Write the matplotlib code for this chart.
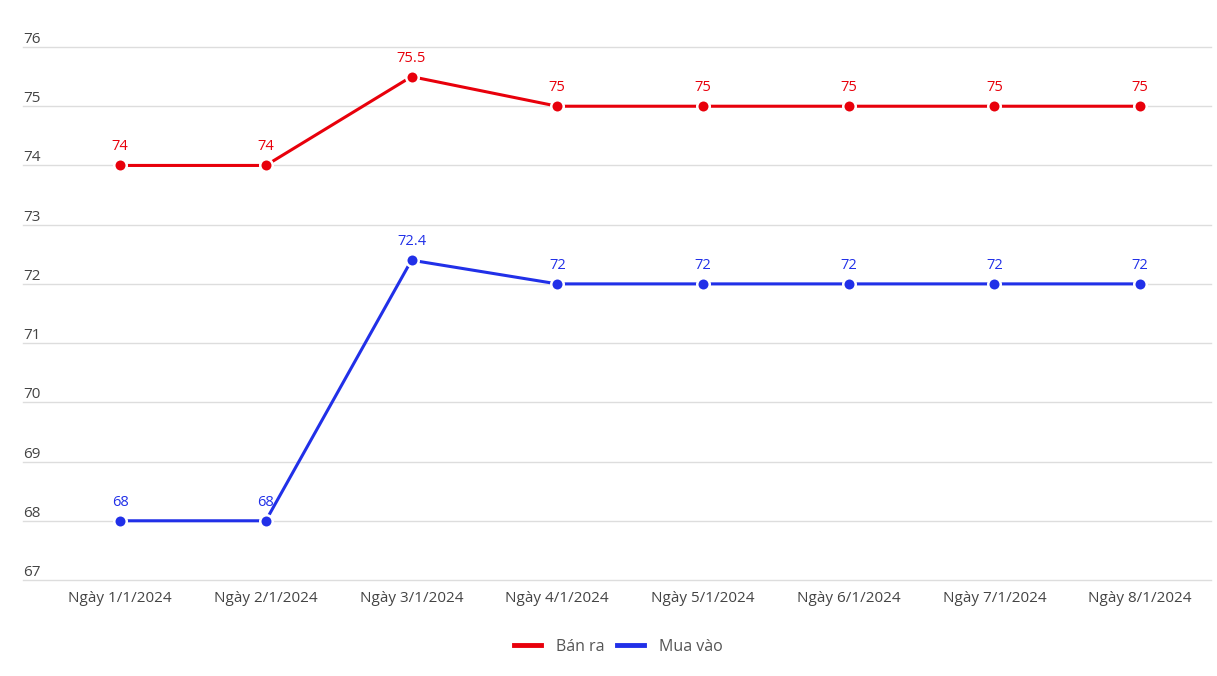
import matplotlib.pyplot as plt
from matplotlib.lines import Line2D
from matplotlib.transforms import blended_transform_factory

plt.rcParams['font.family'] = ['Open Sans', 'DejaVu Sans']

days = ["Ngày 1/1/2024", "Ngày 2/1/2024", "Ngày 3/1/2024", "Ngày 4/1/2024",
        "Ngày 5/1/2024", "Ngày 6/1/2024", "Ngày 7/1/2024", "Ngày 8/1/2024"]
ban_ra = [74, 74, 75.5, 75, 75, 75, 75, 75]
mua_vao = [68, 68, 72.4, 72, 72, 72, 72, 72]
yticks = list(range(67, 77))

red = "#e8000b"
blue = "#2130e8"

fig = plt.figure(figsize=(12.17, 6.76), dpi=100)
ax = fig.add_axes([23/1217, 1 - 580/676, (1211-23)/1217, (580-47)/676])

x = list(range(len(days)))
for vals, col in [(ban_ra, red), (mua_vao, blue)]:
    ax.plot(x, vals, color=col, lw=2.2, zorder=3)
    ax.plot(x, vals, 'o', ms=9, color=col, mec="white", mew=1.8, zorder=4)
    for xi, v in zip(x, vals):
        ax.annotate(f"{v:g}", (xi, v), xytext=(0, 8), textcoords="offset points",
                    ha="center", va="bottom", color=col, fontsize=10.5)

ax.set_xlim(-0.666, 7.486)
ax.set_ylim(67, 76)
ax.set_yticks(yticks)
ax.yaxis.grid(True, color="#dddddd", lw=1)
for gl in ax.get_ygridlines():
    gl.set_clip_on(False)
ax.set_axisbelow(True)
ax.tick_params(axis="y", length=0, labelleft=False)
ax.tick_params(axis="x", length=0, pad=8, labelsize=11, labelcolor="#444444")
ax.set_xticks(x)
ax.set_xticklabels(days)
for s in ax.spines.values():
    s.set_visible(False)

# y labels sit just above their gridlines, left aligned
tr = blended_transform_factory(ax.transAxes, ax.transData)
for t in yticks:
    ax.text(0.0, t, str(t), transform=tr, ha="left", va="bottom",
            fontsize=11, color="#444444")

handles = [Line2D([], [], color=red, lw=3.5), Line2D([], [], color=blue, lw=3.5)]
fig.legend(handles, ["Bán ra", "Mua vào"], loc="center", bbox_to_anchor=(0.508, 1 - 647/676),
           ncol=2, frameon=False, fontsize=11.5, handlelength=1.7, columnspacing=0.8,
           labelcolor="#555555", handletextpad=0.9)

fig.savefig("out.png", dpi=100)
